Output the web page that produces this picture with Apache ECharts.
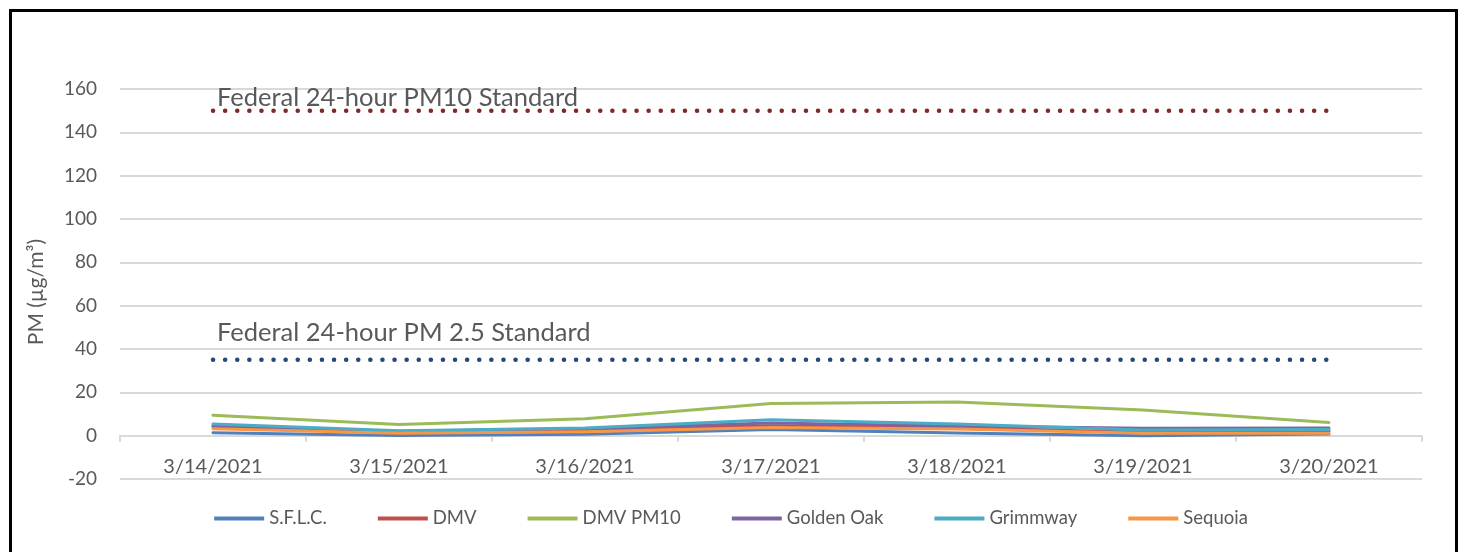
<!DOCTYPE html>
<html>
<head>
<meta charset="utf-8">
<script src="https://cdn.jsdelivr.net/npm/echarts@6/dist/echarts.min.js"></script>
<style>
  html, body { margin: 0; padding: 0; background: #fff; }
  #main { width: 1462px; height: 552px; }
  #frame { position: absolute; left: 9px; top: 9px; width: 1443px; height: 560px;
           border: 3px solid #000; border-bottom: none; pointer-events: none; }
</style>
</head>
<body>
<div id="main"></div>
<div id="frame"></div>
<script>
// dates on the x axis
var days = ['3/14/2021', '3/15/2021', '3/16/2021', '3/17/2021', '3/18/2021', '3/19/2021', '3/20/2021'];

// daily PM values (µg/m³)
var sflc       = [1.4, 0.1, 0.6, 2.8, 1.2, 0.0, 0.8];
var dmv        = [4.2, 1.2, 2.8, 4.6, 3.6, 1.6, 2.0];
var dmvPm10    = [9.4, 5.1, 7.8, 14.8, 15.5, 11.9, 6.1];
var goldenOak  = [4.6, 2.0, 3.2, 5.9, 4.5, 3.4, 3.5];
var grimmway   = [5.4, 2.3, 3.5, 7.4, 5.4, 2.6, 2.8];
var sequoia    = [3.2, 1.1, 1.8, 3.8, 3.1, 1.1, 1.1];

// federal 24-hour standards
var pm10Std = [150, 150, 150, 150, 150, 150, 150];
var pm25Std = [35, 35, 35, 35, 35, 35, 35];

var yTicks = { min: -20, max: 160, interval: 20 };

var font = 'Lato, "DejaVu Sans", sans-serif';
var grey = '#595959';

function site(name, data, color) {
  return {
    name: name, type: 'line', data: data,
    showSymbol: false, symbol: 'none', smooth: false,
    lineStyle: { color: color, width: 3, cap: 'round', join: 'round' },
    itemStyle: { color: color },
    z: 3
  };
}

function standard(data, color, text, dy) {
  return {
    name: text, type: 'line', data: data,
    showSymbol: false, symbol: 'none', silent: true,
    lineStyle: { color: color, width: 4.5, type: [0.1, 12], cap: 'round' },
    markPoint: {
      symbol: 'circle', symbolSize: 0, silent: true,
      data: [{ coord: [0, data[0]] }],
      label: {
        show: true, position: 'right', distance: 4, offset: [0, dy],
        formatter: text, color: grey, fontSize: 25.5, fontFamily: font
      }
    },
    z: 2
  };
}

var chart = echarts.init(document.getElementById('main'));
chart.setOption({
  animation: false,
  backgroundColor: '#fff',
  grid: { left: 120, right: 40, top: 89, bottom: 73 },
  legend: {
    bottom: 19, left: 'center',
    icon: 'rect', itemWidth: 50, itemHeight: 4, itemGap: 51,
    textStyle: { color: grey, fontSize: 18.5, fontFamily: font },
    data: ['S.F.L.C.', 'DMV', 'DMV PM10', 'Golden Oak', 'Grimmway', 'Sequoia']
  },
  xAxis: {
    type: 'category', data: days, boundaryGap: true,
    axisLine: { onZero: true, lineStyle: { color: '#D9D9D9', width: 2 } },
    axisTick: { show: true, length: 6, lineStyle: { color: '#D9D9D9', width: 2 } },
    axisLabel: { color: grey, fontSize: 20, fontFamily: font, margin: -22 },
    splitLine: { show: false }
  },
  yAxis: {
    type: 'value', min: yTicks.min, max: yTicks.max, interval: yTicks.interval,
    name: 'PM (µg/m³)', nameLocation: 'middle', nameGap: 73, nameRotate: 90,
    nameTextStyle: { color: grey, fontSize: 21, fontFamily: font, padding: [0, 16, 0, 0] },
    axisLine: { show: false }, axisTick: { show: false },
    axisLabel: { color: grey, fontSize: 19, fontFamily: font, margin: 23 },
    splitLine: { lineStyle: { color: '#D9D9D9', width: 2 } }
  },
  series: [
    standard(pm10Std, '#7F2A2A', 'Federal 24-hour PM10 Standard', -13),
    standard(pm25Std, '#254A7A', 'Federal 24-hour PM 2.5 Standard', -27),
    site('S.F.L.C.', sflc, '#4F81BD'),
    site('DMV', dmv, '#C0504D'),
    site('DMV PM10', dmvPm10, '#9BBB59'),
    site('Golden Oak', goldenOak, '#8064A2'),
    site('Grimmway', grimmway, '#4BACC6'),
    site('Sequoia', sequoia, '#F79646')
  ]
});
</script>
</body>
</html>
